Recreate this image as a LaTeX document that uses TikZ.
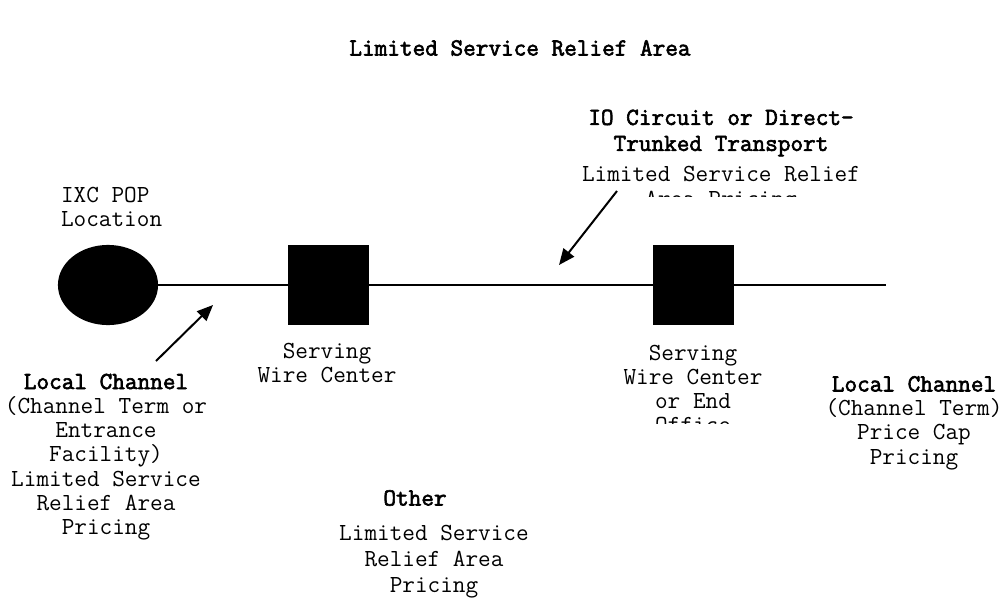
\documentclass[tikz,border=0pt]{standalone}
\usepackage{fontspec}
\setmonofont{Latin Modern Mono}[BoldFont={Latin Modern Mono}, BoldFeatures={FakeBold=2.5}]
\usetikzlibrary{positioning}
\usetikzlibrary{shapes.geometric}
\usetikzlibrary{arrows.meta}

\begin{document}
\begin{tikzpicture}[x=0.75pt,y=-0.75pt,
		office/.style={
			draw,
			fill,
			rectangle,
			minimum width=59.25pt,
			minimum height=58.5pt,
			inner sep=0pt
		},
		pop/.style={
			draw,
			fill,
			ellipse,
			minimum width=73.5pt,
			minimum height=58.5pt,
			inner sep=0pt
		},
		lbl/.style={align=center, inner sep=0pt, font=\ttfamily\fontsize{18.4}{18.2}\selectfont},
		boldlbl/.style={lbl, font=\ttfamily\bfseries\fontsize{18.4}{19.5}\selectfont},
		pointer/.style={line width=1.5pt, -{Triangle[length=12pt,width=10pt]}},
		line width=1.6pt]
		\useasboundingbox (0,0) rectangle (1003,597);
		
		\node[boldlbl] (title) at (520,48) {Limited Service Relief Area};
		
		\node[pop] (ixc) at (108,285) {};
		\node[office] (swcA) at (328.5,285) {};
		\node[office] (swcB) at (693.5,285) {};
		\coordinate (lineend) at (886,285);
		\draw (ixc.east) -- (swcA.west);
		\draw (swcA.east) -- (swcB.west);
		\draw (swcB.east) -- (lineend);
		
		\node[lbl, align=left, anchor=west] (ixclbl) at (60,207) {IXC POP\\Location};
		\node[lbl] (swcAlbl) at (327,363) {Serving\\Wire Center};
		\begin{scope}
			\clip (600,330) rectangle (800,423);
			\node[lbl] (swcBlbl) at (693,389) {Serving\\Wire Center\\or End\\Office};
		\end{scope}
		
		% transport
		\begin{scope}
			\clip (560,90) rectangle (900,196.5);
			\node[boldlbl] (iolbl) at (721,133) {IO Circuit or Direct-\\Trunked Transport};
			\node[lbl, below=6pt of iolbl] (iopr) {Limited Service Relief\\Area Pricing};
		\end{scope}
		\coordinate (ioA) at (617,191);
		\coordinate (ioB) at (559,265);
		\draw[pointer] (ioA) -- (ioB);
		
		% local channel
		\node[lbl] (lcl) at (106,457) {\bfseries Local Channel\\(Channel Term or\\Entrance\\Facility)\\Limited Service\\Relief Area\\Pricing};
		\coordinate (lcA) at (156,361);
		\coordinate (lcB) at (213,305);
		\draw[pointer] (lcA) -- (lcB);
		
		\node[lbl] (lcr) at (914,423) {\bfseries Local Channel\\(Channel Term)\\Price Cap\\Pricing};
		
		\node[boldlbl] (oth) at (415,498) {Other};
		\node[lbl, font=\ttfamily\fontsize{18.4}{19.5}\selectfont] (othpr) at (434,562) {Limited Service\\Relief Area\\Pricing};
	\end{tikzpicture}
\end{document}
